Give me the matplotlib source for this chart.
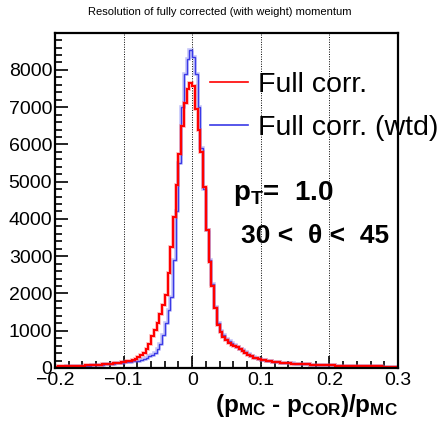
import matplotlib
matplotlib.use("Agg")
import matplotlib.pyplot as plt
import numpy as np
from matplotlib.ticker import MultipleLocator
from matplotlib.lines import Line2D

# histogram binning (bin width 0.004 from -0.2 to 0.3)
bin_lo = -0.2
bin_hi = 0.3

# Full corr. (red)
full_corr = [
    38, 42, 41, 45, 47, 50, 49, 55, 58, 60, 66, 70, 75,
    80, 84, 90, 93, 100, 106, 112, 118, 125, 135, 145, 155,
    168, 178, 192, 214, 245, 285, 340, 410, 510, 640, 860, 1030,
    1200, 1440, 1680, 1950, 2550, 3250, 4050, 4900, 5750, 6500, 7100, 7500,
    7650, 7560, 6950, 6400, 5800, 4850, 3700, 2850, 2200, 1600, 1150, 960,
    840, 750, 680, 630, 590, 555, 500, 450, 400, 350, 310, 280, 255, 235,
    218, 205, 192, 180, 170, 160, 152, 145, 138, 130,
    125, 120, 116, 110, 106, 102, 98, 94, 90, 86, 82, 80, 78, 75, 72,
    70, 68, 66, 64, 62, 60, 58, 56, 55, 54, 52, 50, 49, 48, 46, 45, 44, 42, 41, 40,
    38, 37, 36, 35, 34,
]

# Full corr. (wtd) (blue)
full_corr_wtd = [
    33, 36, 38, 40, 42, 44, 46, 49, 52, 55, 58, 62, 66,
    70, 74, 78, 82, 88, 94, 100, 106, 113, 122, 130, 140,
    150, 158, 166, 175, 185, 200, 220, 245, 275, 310, 350, 400,
    500, 650, 880, 1200, 1550, 1900, 2900, 4200, 5500, 7000, 7900, 8300,
    8530, 8350, 7900, 7000, 5900, 4800, 3700, 2900, 2250, 1650, 1200, 1000,
    880, 790, 720, 660, 615, 575, 520, 470, 420, 370, 325, 290, 262, 240,
    222, 208, 195, 182, 172, 162, 154, 146, 139, 131,
    126, 121, 116, 111, 107, 103, 99, 95, 91, 87, 83, 80, 78, 75, 72,
    70, 68, 66, 64, 62, 60, 58, 56, 55, 53, 52, 50, 49, 48, 46, 45, 44, 42, 41, 40,
    38, 37, 36, 35, 34,
]

labels = ["Full corr.", "Full corr. (wtd)"]

plt.rcParams["font.family"] = ["Liberation Sans", "DejaVu Sans"]
plt.rcParams["mathtext.fontset"] = "custom"
plt.rcParams["mathtext.rm"] = "Liberation Sans"
plt.rcParams["mathtext.it"] = "Liberation Sans:italic"
plt.rcParams["mathtext.bf"] = "Liberation Sans:bold"

edges = np.linspace(bin_lo, bin_hi, len(full_corr) + 1)

fig = plt.figure(figsize=(4.41, 4.26), dpi=100)
ax = fig.add_axes([55 / 441, 1 - 368 / 426, 343 / 441, 335 / 426])

# blue first, red on top
ax.stairs(full_corr_wtd, edges, color="#5a5af0", linewidth=2.6, alpha=0.35)
ax.stairs(full_corr_wtd, edges, color="#3a3ae6", linewidth=1.0)
ax.stairs(full_corr, edges, color="#ff5050", linewidth=2.8, alpha=0.35)
ax.stairs(full_corr, edges, color="red", linewidth=1.5)

ax.set_xlim(-0.2, 0.3)
ax.set_ylim(0, 8990)

ax.xaxis.set_minor_locator(MultipleLocator(0.02))
ax.yaxis.set_major_locator(MultipleLocator(1000))
ax.yaxis.set_minor_locator(MultipleLocator(200))
ax.tick_params(axis="both", which="both", direction="in", top=False, right=False,
               labelsize=14, width=1.2)
ax.tick_params(axis="both", which="major", length=9)
ax.tick_params(axis="both", which="minor", length=5)
ax.tick_params(axis="x", pad=3)
ax.tick_params(axis="y", pad=2)
ax.set_xticks([-0.2, -0.1, 0, 0.1, 0.2, 0.3])
ax.set_xticklabels(["\u22120.2", "\u22120.1", "0", "0.1", "0.2", "0.3"])

for s in ax.spines.values():
    s.set_linewidth(1.6)

# vertical dotted grid
ax.grid(axis="x", which="major", color="black", linestyle=(0, (1, 1.5)), linewidth=0.7)
ax.set_axisbelow(True)

leg_handles = [Line2D([], [], color="red", linewidth=1.2),
               Line2D([], [], color="#3a3ae6", linewidth=1.2)]
leg = ax.legend(handles=leg_handles, labels=labels, loc="upper left",
                bbox_to_anchor=(210 / 441, 1 - 72 / 426),
                bbox_transform=fig.transFigure, frameon=False, fontsize=20.5,
                handlelength=1.35, handletextpad=0.35, labelspacing=0.6,
                borderpad=0, borderaxespad=0)

fig.text(220 / 441, 1 - 12 / 426, "Resolution of fully corrected (with weight) momentum",
         ha="center", va="center", fontsize=8)

fig.text(233 / 441, 1 - 200 / 426, r"$\mathbf{p_T}$=  1.0", fontsize=20, fontweight="bold",
         ha="left", va="baseline")
fig.text(241 / 441, 1 - 243 / 426, "30 <  \u03b8 <  45", fontsize=19, fontweight="bold",
         ha="left", va="baseline")

fig.text(398 / 441, 1 - 412 / 426, r"$\mathbf{(p_{MC}}$ - $\mathbf{p_{COR})/p_{MC}}$",
         fontsize=17.5, fontweight="bold", ha="right", va="baseline")

fig.savefig("out.png", dpi=100)
